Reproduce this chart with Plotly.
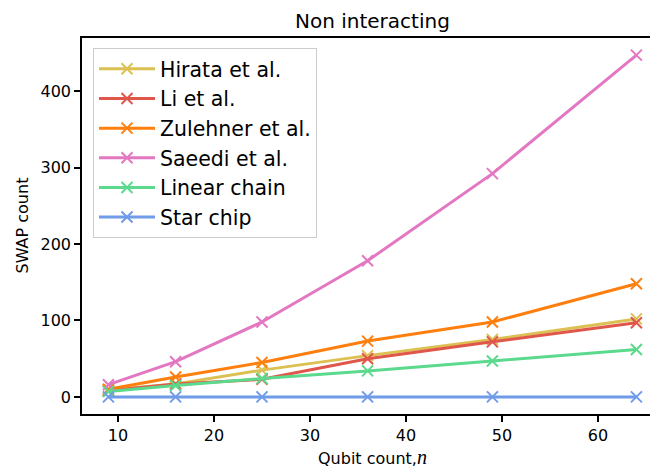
import plotly.graph_objects as go

qubits = [9, 16, 25, 36, 49, 64]
hirata = [9, 17, 35, 54, 75, 102]
li = [8, 17, 23, 50, 72, 97]
zulehner = [10, 26, 45, 73, 98, 148]
saeedi = [16, 46, 98, 178, 292, 447]
linear_chain = [7, 15, 24, 34, 47, 62]
star_chip = [0, 0, 0, 0, 0, 0]

series = [
    ("Hirata et al.", hirata, "#dcc152"),
    ("Li et al.", li, "#e0564a"),
    ("Zulehner et al.", zulehner, "#ff7f0e"),
    ("Saeedi et al.", saeedi, "#e377c2"),
    ("Linear chain", linear_chain, "#5bd98c"),
    ("Star chip", star_chip, "#6f9be8"),
]

x_ticks = [10, 20, 30, 40, 50, 60]
y_ticks = [0, 100, 200, 300, 400]

FONT = "DejaVu Sans"
# the page body adds an 8px offset; work in page pixels and shift
OFF = 8
W, H = 658 - OFF, 468 - OFF
L, T, B = 82, 38, 414          # page pixels of plot area
PW, PH = 576, B - T

fig = go.Figure()
for name, vals, col in series:
    fig.add_trace(go.Scatter(
        x=qubits, y=vals, name=name, mode="lines+markers",
        line=dict(color=col, width=3),
        marker=dict(symbol="x-thin", size=11, line=dict(color=col, width=2)),
    ))

fig.update_layout(
    width=W, height=H,
    margin=dict(l=L - OFF, r=0, t=T - OFF, b=H - (B - OFF), autoexpand=False),
    paper_bgcolor="white", plot_bgcolor="white",
    font=dict(family=FONT, color="black", size=16),
    showlegend=True,
    legend=dict(x=(93 - L) / PW, y=(B - 48) / PH, xanchor="left", yanchor="top",
                bgcolor="rgba(255,255,255,0.8)", bordercolor="#cccccc", borderwidth=1,
                itemwidth=56,
                font=dict(family=FONT, size=20.5, color="black")),
    annotations=[
        dict(text="Non interacting", xref="paper", yref="paper",
             x=(372.5 - L) / PW, y=(B - 20.5) / PH, xanchor="center", yanchor="middle",
             showarrow=False, font=dict(family=FONT, size=20, color="black")),
        dict(text="Qubit count,<span style=\"font-family:'Liberation Serif';font-size:20px\"><i>n</i></span>",
             xref="paper", yref="paper",
             x=(372.5 - L) / PW, y=(B - 457.5) / PH, xanchor="center", yanchor="middle",
             showarrow=False, font=dict(family=FONT, size=16, color="black")),
        dict(text="SWAP count", xref="paper", yref="paper", textangle=-90,
             x=(21.5 - L) / PW, y=(B - 226) / PH, xanchor="center", yanchor="middle",
             showarrow=False, font=dict(family=FONT, size=16, color="black")),
    ],
)
fig.update_xaxes(
    range=[6.25, 66.25], tickvals=x_ticks, ticktext=[str(v) for v in x_ticks],
    showline=True, linecolor="black", linewidth=1.6, mirror=True,
    ticks="outside", ticklen=6, tickwidth=1.6, tickcolor="black",
    showgrid=False, zeroline=False, automargin=False,
    tickfont=dict(family=FONT, size=16),
)
fig.update_yaxes(
    range=[-22.35, 469.35], tickvals=y_ticks, ticktext=[str(v) for v in y_ticks],
    showline=True, linecolor="black", linewidth=1.6, mirror=False,
    ticks="outside", ticklen=6, tickwidth=1.6, tickcolor="black",
    showgrid=False, zeroline=False, automargin=False,
    tickfont=dict(family=FONT, size=16),
)

fig.write_html("out.html")
